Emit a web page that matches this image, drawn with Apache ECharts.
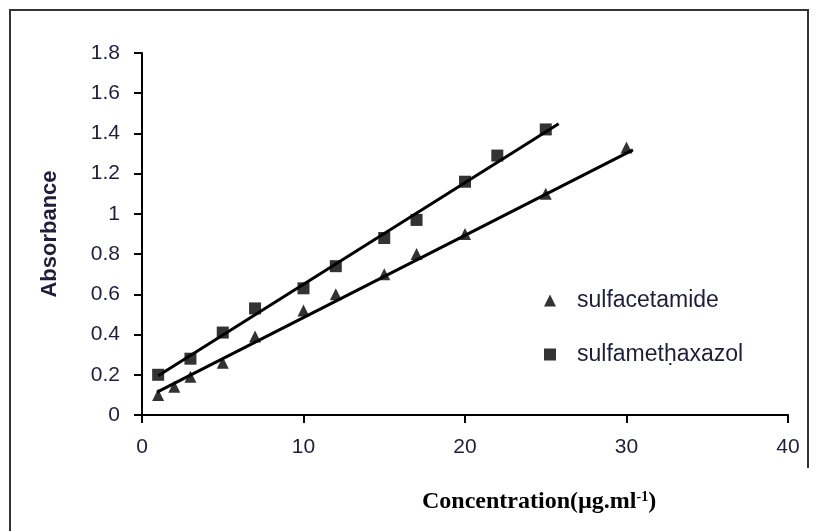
<!DOCTYPE html>
<html>
<head>
<meta charset="utf-8">
<script src="https://cdn.jsdelivr.net/npm/echarts@6/dist/echarts.min.js"></script>
<style>
  html, body { margin: 0; padding: 0; background: #fff; }
  #myChart { width: 816px; height: 531px; }
</style>
</head>
<body>
<div id="myChart"></div>
<script>
  // concentration (ug/ml) and absorbance
  var conc_acet = [1, 2, 3, 5, 7, 10, 12, 15, 17, 20, 25, 30];
  var abs_acet = [0.10, 0.14, 0.19, 0.26, 0.39, 0.52, 0.60, 0.70, 0.80, 0.90, 1.10, 1.33];
  var conc_meth = [1, 3, 5, 7, 10, 12, 15, 17, 20, 22, 25];
  var abs_meth = [0.20, 0.28, 0.41, 0.53, 0.63, 0.74, 0.88, 0.97, 1.16, 1.29, 1.42];
  // fitted line ends, as drawn
  var trend_acet = [[0.93, 0.114], [30.4, 1.318]];
  var trend_meth = [[1, 0.195], [25.8, 1.448]];
  var names = ['sulfacetamide', 'sulfameth\u0323axazol'];

  function pairs(xs, ys) {
    var out = [];
    for (var i = 0; i < xs.length; i++) out.push([xs[i], ys[i]]);
    return out;
  }

  var txt = '#1e1e3a';
  var myChart = echarts.init(document.getElementById('myChart'));
  myChart.setOption({
    animation: false,
    grid: { left: 142, right: 28, top: 53, bottom: 116 },
    legend: {
      orient: 'vertical',
      left: 539,
      top: 284,
      itemGap: 31,
      itemWidth: 12,
      itemHeight: 12,
      data: [
        { name: names[0], icon: 'path://M5,0 L10,10 L0,10 Z' },
        { name: names[1], icon: 'rect' }
      ],
      textStyle: { color: txt, fontSize: 23, fontFamily: 'Liberation Sans, Arial', padding: [0, 0, 0, 16] }
    },
    xAxis: {
      type: 'value',
      min: 0, max: 40, interval: 10,
      axisLine: { lineStyle: { color: '#000', width: 2 } },
      axisTick: { show: true, length: 8, lineStyle: { color: '#000', width: 2 } },
      axisLabel: { color: txt, fontSize: 21, fontFamily: 'Liberation Sans, Arial', margin: 22 },
      splitLine: { show: false }
    },
    yAxis: {
      type: 'value',
      min: 0, max: 1.8, interval: 0.2,
      axisLine: { show: true, lineStyle: { color: '#000', width: 2 } },
      axisTick: { show: true, length: 8, lineStyle: { color: '#000', width: 2 } },
      axisLabel: {
        color: txt, fontSize: 21, fontFamily: 'Liberation Sans, Arial', margin: 22,
        formatter: function (v) { return String(Math.round(v * 10) / 10); }
      },
      splitLine: { show: false }
    },
    graphic: [
      { type: 'polyline', silent: true, shape: { points: [[10, 531], [10, 10], [808, 10], [808, 468]] },
        style: { stroke: '#333', lineWidth: 2, fill: null } },
      { type: 'text', x: 50, y: 234, rotation: Math.PI / 2, silent: true,
        style: { text: 'Absorbance', font: 'bold 22px "Liberation Sans", Arial', fill: txt,
                 textAlign: 'center', textVerticalAlign: 'middle' } },
      { type: 'text', left: 422, top: 490, silent: true,
        style: {
          text: '{a|Concentration(\u00b5g.ml}{s|-1}{a|)}',
          rich: {
            a: { font: 'bold 24px "Liberation Serif", "Times New Roman"', fill: '#000', verticalAlign: 'bottom' },
            s: { font: 'bold 14px "Liberation Serif", "Times New Roman"', fill: '#000', verticalAlign: 'top', padding: [0, 0, 10, 0] }
          }
        } }
    ],
    series: [
      {
        name: names[0], type: 'scatter', symbol: 'triangle', symbolSize: 12,
        itemStyle: { color: '#000' }, data: pairs(conc_acet, abs_acet), z: 3
      },
      {
        name: names[1], type: 'scatter', symbol: 'rect', symbolSize: 12,
        itemStyle: { color: '#000' }, data: pairs(conc_meth, abs_meth), z: 3
      },
      {
        type: 'line', data: trend_acet, symbol: 'none',
        lineStyle: { color: '#000', width: 3 }, z: 2, silent: true
      },
      {
        type: 'line', data: trend_meth, symbol: 'none',
        lineStyle: { color: '#000', width: 3 }, z: 2, silent: true
      }
    ]
  });
</script>
</body>
</html>
